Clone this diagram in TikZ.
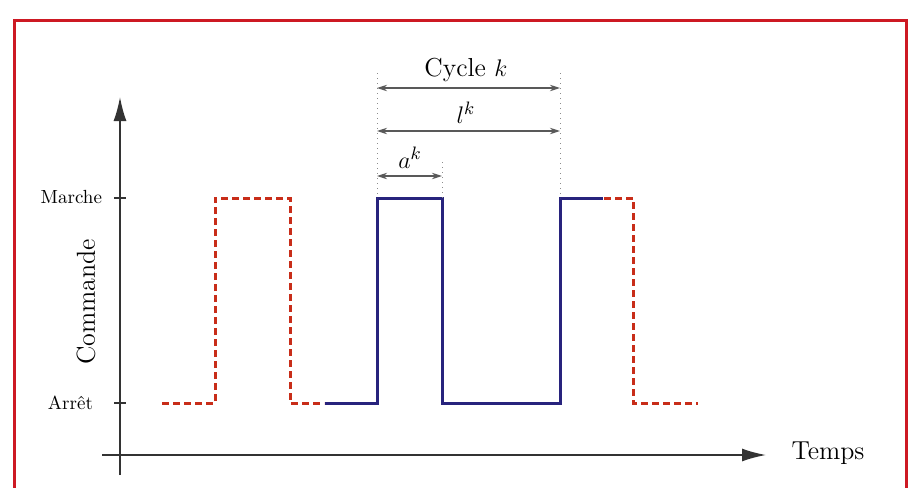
\documentclass[tikz,border=0pt]{standalone}
\usepackage{fontspec}
\usetikzlibrary{arrows.meta}

\definecolor{cadre}{RGB}{205,25,35}
\definecolor{rouge}{RGB}{200,45,25}
\definecolor{bleu}{RGB}{40,35,125}

\tikzset{
  axe/.style={line width=0.8pt, draw=black!80, -{Latex[length=12pt,width=6.5pt]}},
  cote/.style={line width=0.6pt, draw=black!65, {Stealth[length=5pt,width=3.2pt]}-{Stealth[length=5pt,width=3.2pt]}},
  repere/.style={line width=0.5pt, draw=black!45, dotted},
  avant/.style={line width=1.5pt, draw=rouge, dash pattern=on 3.5pt off 2pt},
  courant/.style={line width=1.5pt, draw=bleu},
  petit/.style={font=\fontsize{9.5}{11}\selectfont},
  grand/.style={font=\fontsize{13}{15}\selectfont}
}

\begin{document}
\begin{tikzpicture}[x=0.5pt,y=-0.5pt]
		\useasboundingbox (0,0) rectangle (912,488);
		
		% Frame
		\draw[cadre, line width=1.5pt] (14,488) -- (14,20) -- (906,20) -- (906,488);
		
		% Axes
		\coordinate (ybas) at (120,475);
		\coordinate (yhaut) at (120,97);
		\coordinate (xgauche) at (102,455);
		\coordinate (xdroite) at (766,455);
		\draw[axe] (ybas) -- (yhaut);
		\draw[axe] (xgauche) -- (xdroite);
		\node[grand] (temps) at (828,453) {Temps};
		\node[grand, rotate=90] (commande) at (86,302) {Commande};
		
		% Levels
		\draw[line width=0.6pt, black!80] (114,198) -- (126,198);
		\draw[line width=0.6pt, black!80] (114,403) -- (126,403);
		\node[petit, anchor=east] (marche) at (109,197) {Marche};
		\node[petit, anchor=east] (arret) at (100,403) {Arrêt};
		
		% Previous and next cycles
		\draw[avant] (162,403) -- (215,403) -- (215,198) -- (290,198) -- (290,403) -- (324,403);
		\draw[avant] (604,198) -- (633,198) -- (633,403) -- (698,403);
		
		% Current cycle
		\draw[courant] (325,403) -- (377,403) -- (377,198) -- (442,198) -- (442,403) -- (560,403) -- (560,198) -- (603,198);
		
		% Dimensions
		\coordinate (d1) at (377,73);
		\coordinate (d2) at (560,73);
		\coordinate (f1) at (442,162);
		\draw[repere] (d1) -- (377,198);
		\draw[repere] (d2) -- (560,198);
		\draw[repere] (f1) -- (442,198);
		
		\coordinate (c1) at (377,88);
		\coordinate (c2) at (560,88);
		\draw[cote] (c1) -- (c2);
		\node[grand] (cycle) at (466,70) {Cycle $k$};
		
		\coordinate (l1) at (377,131);
		\coordinate (l2) at (560,131);
		\draw[cote] (l1) -- (l2);
		\node[grand] (lk) at (466,113) {$l^k$};
		
		\coordinate (a1) at (377,176);
		\coordinate (a2) at (442,176);
		\draw[cote] (a1) -- (a2);
		\node[grand] (ak) at (410,158) {$a^k$};
	\end{tikzpicture}
\end{document}
